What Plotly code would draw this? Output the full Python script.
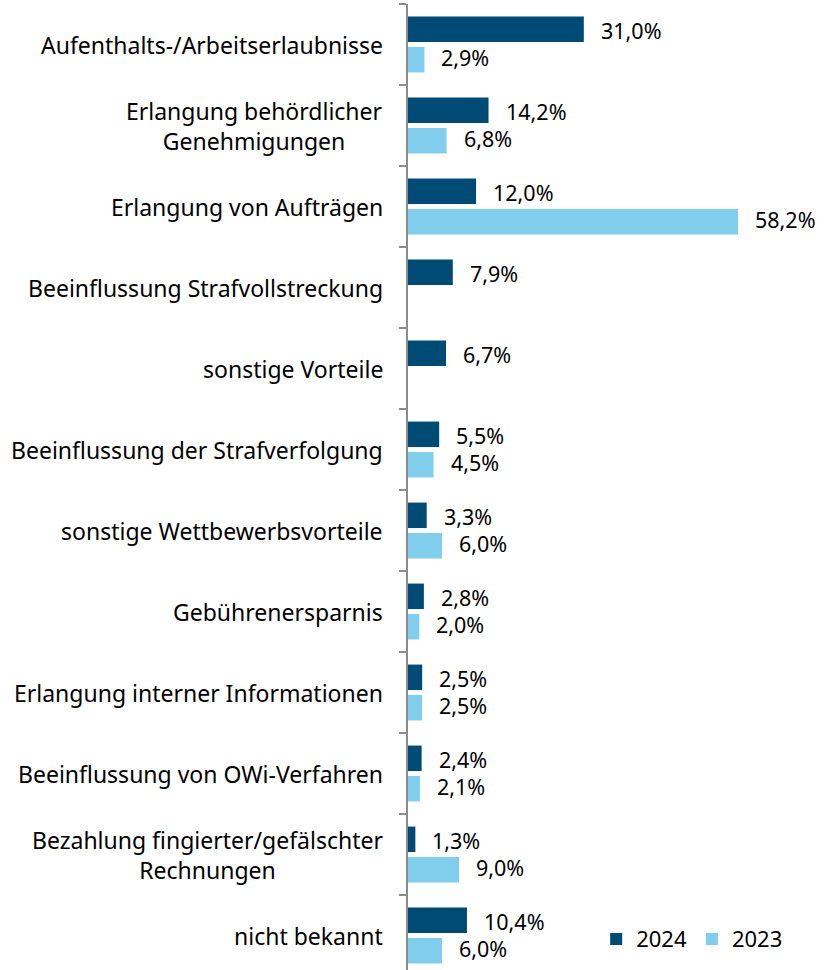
import plotly.graph_objects as go

categories = [
    "Aufenthalts-/Arbeitserlaubnisse",
    "Erlangung behördlicher<br>Genehmigungen",
    "Erlangung von Aufträgen",
    "Beeinflussung Strafvollstreckung",
    "sonstige Vorteile",
    "Beeinflussung der Strafverfolgung",
    "sonstige Wettbewerbsvorteile",
    "Gebührenersparnis",
    "Erlangung interner Informationen",
    "Beeinflussung von OWi-Verfahren",
    "Bezahlung fingierter/gefälschter<br>Rechnungen",
    "nicht bekannt",
]
values_2024 = [31.0, 14.2, 12.0, 7.9, 6.7, 5.5, 3.3, 2.8, 2.5, 2.4, 1.3, 10.4]
values_2023 = [2.9, 6.8, 58.2, None, None, 4.5, 6.0, 2.0, 2.5, 2.1, 9.0, 6.0]

C2024 = "#004B76"
C2023 = "#80CDEC"
FONT = "Noto Sans"

def fmt(v):
    return "" if v is None else f"{v:.1f}".replace(".", ",") + "%"

fig = go.Figure()
fig.add_bar(name="2024", y=categories, x=values_2024, orientation="h",
            marker_color=C2024, marker_line_width=0, hoverinfo="skip")
fig.add_bar(name="2023", y=categories, x=values_2023, orientation="h",
            marker_color=C2023, marker_line_width=0, hoverinfo="skip")

annotations = []
for i, c in enumerate(categories):
    annotations.append(dict(x=0, xref="paper", y=c, yref="y", text=c,
                            xanchor="right", yanchor="middle", align="center",
                            xshift=-23, showarrow=False,
                            font=dict(family=FONT, size=23, color="#000")))
    for v, ys in ((values_2024[i], 14), (values_2023[i], -13)):
        if v is None:
            continue
        annotations.append(dict(x=v, xref="x", y=c, yref="y", text=fmt(v),
                                xanchor="left", yanchor="middle", xshift=15,
                                yshift=ys, showarrow=False,
                                font=dict(family=FONT, size=21.5, color="#000")))

band = 81
plot_h = 966
fig.update_layout(
    width=830, height=970,
    margin=dict(l=408, r=25, t=4, b=0),
    paper_bgcolor="white", plot_bgcolor="white",
    barmode="group", bargap=0.25, bargroupgap=0.16,
    showlegend=True,
    legend=dict(orientation="h", x=0.474, y=0.032, xanchor="left", yanchor="middle",
                font=dict(family=FONT, size=22, color="#000"),
                traceorder="normal", itemwidth=30, bgcolor="rgba(0,0,0,0)"),
    annotations=annotations,
    font=dict(family=FONT, size=22, color="#000"),
)
fig.update_xaxes(range=[0, 70], visible=False, showgrid=False, zeroline=False)
fig.update_yaxes(type="category", categoryorder="array", categoryarray=categories,
                 range=[-0.5 + plot_h / band, -0.5],
                 showticklabels=False, tickson="boundaries", ticks="outside",
                 ticklen=7, tickwidth=1.5, tickcolor="#8c8c8c",
                 showline=True, linecolor="#8c8c8c", linewidth=2,
                 showgrid=False, zeroline=False)

fig.write_html("out.html", config={"displayModeBar": False},
               post_script="document.body.style.margin='0';")
